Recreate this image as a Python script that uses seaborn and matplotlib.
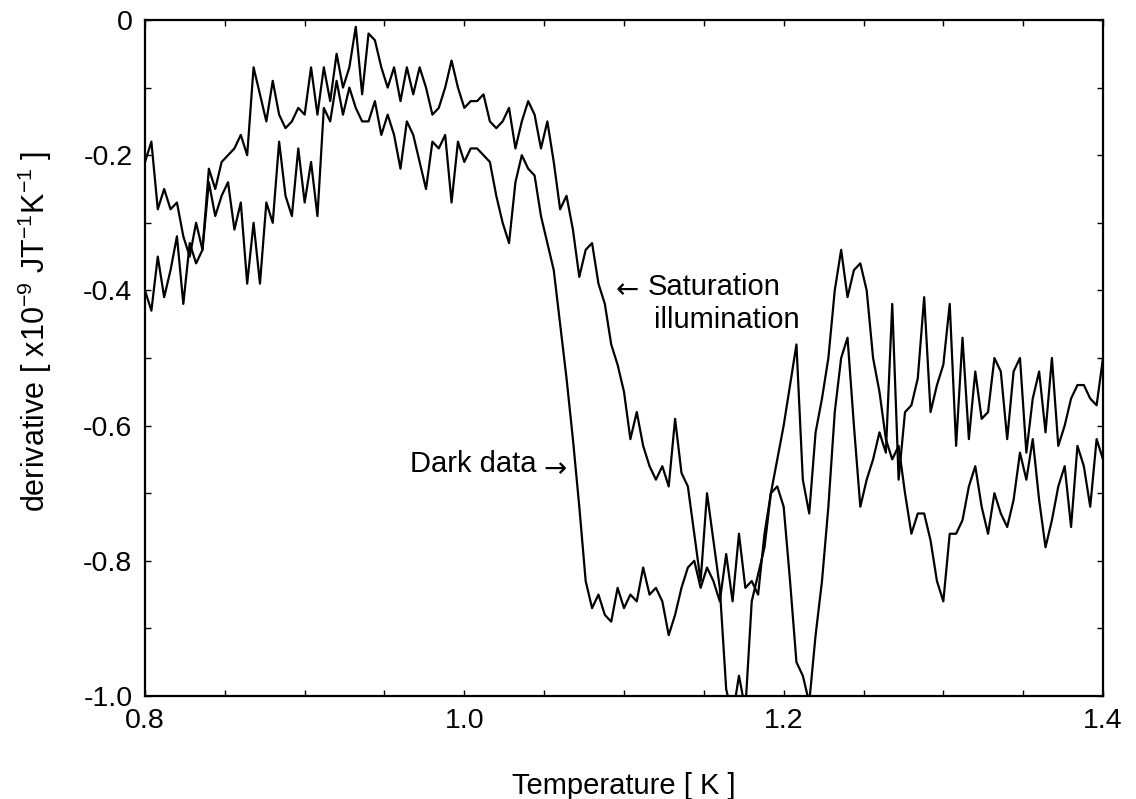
import numpy as np
import pandas as pd
import matplotlib
matplotlib.use("Agg")
import matplotlib.pyplot as plt
import seaborn as sns

# derivative in units of 1e-9 J/T/K, every 0.004 K from 0.8 K to 1.4 K
dark_data = [
    -0.40, -0.43, -0.35, -0.41, -0.37, -0.32, -0.42, -0.33, -0.36, -0.34, -0.24, -0.29, -0.26, -0.24, -0.31, -0.27,
    -0.39, -0.30, -0.39, -0.27, -0.30, -0.18, -0.26, -0.29, -0.19, -0.27, -0.21, -0.29, -0.13, -0.15, -0.09, -0.14,
    -0.10, -0.13, -0.15, -0.15, -0.12, -0.17, -0.14, -0.17, -0.22, -0.15, -0.17, -0.21, -0.25, -0.18, -0.19, -0.17,
    -0.27, -0.18, -0.21, -0.19, -0.19, -0.20, -0.21, -0.26, -0.30, -0.33, -0.24, -0.20, -0.22,
    -0.23, -0.29, -0.33, -0.37, -0.45, -0.53, -0.62, -0.72, -0.83, -0.87, -0.85, -0.88, -0.89, -0.84, -0.87, -0.85,
    -0.86, -0.81, -0.85, -0.84, -0.86, -0.91, -0.88, -0.84, -0.81,
    -0.80, -0.84, -0.81, -0.83, -0.86, -0.79, -0.86, -0.76, -0.84, -0.83, -0.85, -0.76, -0.70, -0.65, -0.60, -0.54,
    -0.48, -0.68, -0.73, -0.61, -0.56, -0.50, -0.40, -0.34, -0.41,
    -0.37, -0.36, -0.40, -0.50, -0.55, -0.62, -0.65, -0.63, -0.70, -0.76, -0.73, -0.73, -0.77, -0.83, -0.86, -0.76,
    -0.76, -0.74, -0.69, -0.66, -0.72, -0.76, -0.70, -0.73, -0.75, -0.71, -0.64, -0.68, -0.62, -0.71, -0.78, -0.74,
    -0.69, -0.66, -0.75, -0.63, -0.66, -0.72, -0.62, -0.65,
]
saturation = [
    -0.21, -0.18, -0.28, -0.25, -0.28, -0.27, -0.32, -0.35, -0.30, -0.34, -0.22, -0.25, -0.21, -0.20, -0.19, -0.17,
    -0.20, -0.07, -0.11, -0.15, -0.09, -0.14, -0.16, -0.15, -0.13, -0.14, -0.07, -0.14, -0.07, -0.12, -0.05, -0.10,
    -0.07, -0.01, -0.11, -0.02, -0.03, -0.07, -0.10, -0.07, -0.12, -0.07, -0.11, -0.07, -0.10, -0.14, -0.13, -0.10,
    -0.06, -0.10, -0.13, -0.12, -0.12, -0.11, -0.15, -0.16, -0.15, -0.13, -0.19, -0.15, -0.12,
    -0.14, -0.19, -0.15, -0.21, -0.28, -0.26, -0.31, -0.38, -0.34, -0.33, -0.39, -0.42, -0.48, -0.51, -0.55, -0.62,
    -0.58, -0.63, -0.66, -0.68, -0.66, -0.69, -0.59, -0.67, -0.69,
    -0.76, -0.83, -0.70, -0.77, -0.84, -0.99, -1.03, -0.97, -1.02, -0.86, -0.82, -0.78, -0.70, -0.69, -0.72, -0.83,
    -0.95, -0.97, -1.01, -0.91, -0.83, -0.72, -0.58, -0.50, -0.47,
    -0.60, -0.72, -0.68, -0.65, -0.61, -0.64, -0.42, -0.68, -0.58, -0.57, -0.53, -0.41, -0.58, -0.54, -0.51, -0.42,
    -0.63, -0.47, -0.62, -0.52, -0.59, -0.58, -0.50, -0.52, -0.62, -0.52, -0.50, -0.64, -0.56, -0.52, -0.61, -0.50,
    -0.63, -0.60, -0.56, -0.54, -0.54, -0.56, -0.57, -0.50,
]

x_ticks = [0.8, 0.85, 0.9, 0.95, 1.0, 1.05, 1.1, 1.15, 1.2, 1.25, 1.3, 1.35, 1.4]
x_labels = ["0.8", "", "", "", "1.0", "", "", "", "1.2", "", "", "", "1.4"]
y_ticks = [0, -0.1, -0.2, -0.3, -0.4, -0.5, -0.6, -0.7, -0.8, -0.9, -1.0]
y_labels = ["0", "", "-0.2", "", "-0.4", "", "-0.6", "", "-0.8", "", "-1.0"]

temperature = np.round(np.linspace(0.8, 1.4, len(dark_data)), 3)
df = pd.DataFrame({"temperature": temperature, "dark": dark_data, "saturation": saturation})

sns.set_theme(style="ticks")
plt.rcParams["font.family"] = ["Liberation Sans", "DejaVu Sans"]
plt.rcParams["mathtext.fontset"] = "custom"
plt.rcParams["mathtext.rm"] = "Liberation Sans"
plt.rcParams["axes.unicode_minus"] = False
plt.rcParams["text.color"] = "black"
plt.rcParams["axes.labelcolor"] = "black"

fig = plt.figure(figsize=(11.36, 7.99), dpi=100)
ax = fig.add_axes([145 / 1136, 1 - 696 / 799, (1103 - 145) / 1136, (696 - 20) / 799])

for col in ["dark", "saturation"]:
    sns.lineplot(data=df, x="temperature", y=col, ax=ax, color="black", lw=1.6, estimator=None, sort=False)

ax.set_xlim(0.8, 1.4)
ax.set_ylim(-1.0, 0)
ax.set_xticks(x_ticks)
ax.set_xticklabels(x_labels)
ax.set_yticks(y_ticks)
ax.set_yticklabels(y_labels)
ax.tick_params(direction="in", length=4, width=1, top=True, right=True, labelsize=20.5, pad=9, colors="black")
for s in ax.spines.values():
    s.set_linewidth(1.6)
    s.set_color("black")

ax.set_xlabel("Temperature [ K ]", fontsize=21, labelpad=27)
ax.set_ylabel(r"derivative [ x10$^{\mathregular{-9}}$ JT$^{\mathregular{-1}}$K$^{\mathregular{-1}}$ ]", fontsize=22)
ax.yaxis.set_label_coords(-0.095, 0.54)

# annotations: arrows drawn with DejaVu glyphs, which are longer like in the original
ax.text(1.0945, -0.412, "\u2190", fontsize=20, family="DejaVu Sans", ha="left", va="baseline")
ax.text(1.1150, -0.407, "Saturation", fontsize=21, ha="left", va="baseline")
ax.text(1.1187, -0.455, "illumination", fontsize=21, ha="left", va="baseline")
ax.text(0.966, -0.669, "Dark data", fontsize=21, ha="left", va="baseline")
ax.text(1.0495, -0.676, "\u2192", fontsize=20, family="DejaVu Sans", ha="left", va="baseline")

fig.savefig("out.png", dpi=100)
